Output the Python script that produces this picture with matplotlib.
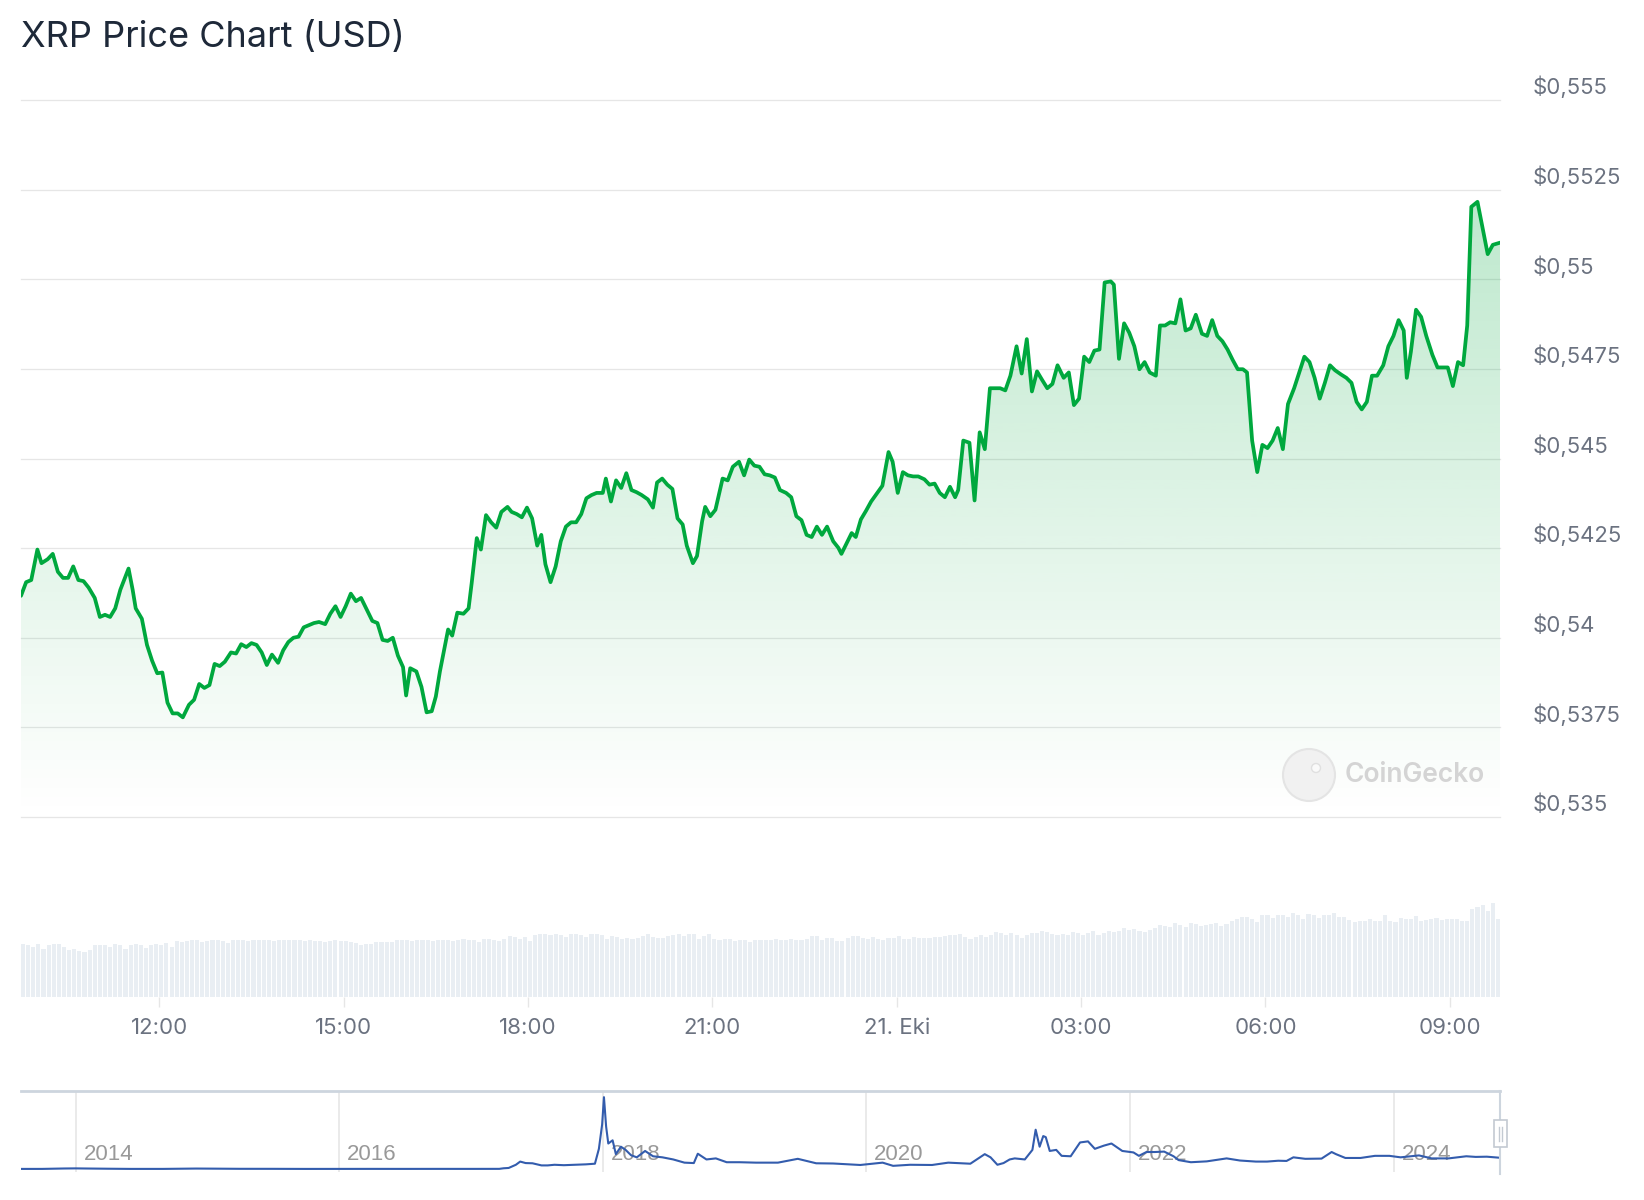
import numpy as np
import pandas as pd
import matplotlib
matplotlib.use('Agg')
import matplotlib.pyplot as plt
import matplotlib.dates as mdates
from matplotlib.patches import Polygon, Circle, Rectangle
from matplotlib.lines import Line2D
from matplotlib.transforms import blended_transform_factory, ScaledTranslation

plt.rcParams['font.family'] = ['Inter', 'DejaVu Sans']

# ---------------- data ----------------
START = '2024-10-20 09:45'
END_MIN = 1444

# minutes after START, and XRP price (USD)
minutes = [0, 5, 10, 16, 20, 26, 31, 36, 41, 46, 51, 56, 61, 66, 72, 77, 82, 87, 92, 97,
           105, 109, 112, 118, 123, 128, 133, 138, 143, 148, 153, 158, 164, 169, 174, 179, 184, 189, 194, 199,
           205, 210, 215, 220, 225, 230, 235, 240, 245, 251, 256, 261, 266, 271, 276, 281, 286, 291, 297, 302,
           307, 312, 317, 322, 327, 332, 337, 343, 348, 353, 358, 363, 368, 373, 376, 380, 386, 391, 396, 401,
           405, 409, 414, 417, 421, 426, 432, 437, 440, 445, 449, 454, 459, 464, 469, 475, 479, 484, 489, 494,
           499, 504, 508, 512, 517, 522, 527, 532, 537, 542, 547, 552, 557, 562, 568, 571, 576, 581, 586, 591,
           596, 601, 606, 612, 617, 621, 626, 631, 636, 641, 646, 650, 656, 660, 665, 668, 673, 678, 685, 690,
           695, 701, 706, 711, 716, 721, 726, 731, 736, 741, 747, 752, 757, 762, 767, 772, 777, 782, 787, 793,
           798, 801, 806, 811, 815, 820, 825, 830, 836, 841, 847, 851, 856, 861, 866, 871, 876, 882, 887, 892,
           897, 902, 907, 912, 915, 920, 926, 931, 936, 941, 946, 951, 956, 961, 966, 972, 977, 982, 987, 992,
           997, 1002, 1007, 1012, 1018, 1023, 1028, 1033, 1038, 1043, 1048, 1053, 1058, 1064, 1067, 1072, 1077, 1082, 1087, 1092,
           1097, 1102, 1108, 1112, 1117, 1122, 1127, 1132, 1137, 1142, 1147, 1153, 1158, 1163, 1168, 1173, 1178, 1183, 1188, 1193,
           1197, 1202, 1207, 1212, 1217, 1222, 1227, 1232, 1237, 1243, 1248, 1253, 1258, 1263, 1268, 1273, 1278, 1283, 1289, 1294,
           1299, 1304, 1309, 1314, 1319, 1324, 1330, 1335, 1340, 1345, 1350, 1353, 1357, 1362, 1367, 1372, 1378, 1383, 1388, 1393,
           1398, 1403, 1408, 1412, 1416, 1422, 1427, 1432, 1437, 1444]

prices = [0.54117, 0.54155, 0.54161, 0.54246, 0.54208, 0.54219, 0.54234, 0.54184, 0.54167, 0.54167,
          0.54199, 0.54161, 0.54158, 0.54140, 0.54111, 0.54058, 0.54064, 0.54058, 0.54082, 0.54134,
          0.54193, 0.54134, 0.54082, 0.54053, 0.53980, 0.53936, 0.53901, 0.53903, 0.53819, 0.53789,
          0.53789, 0.53778, 0.53813, 0.53827, 0.53871, 0.53860, 0.53868, 0.53927, 0.53921, 0.53933,
          0.53959, 0.53956, 0.53982, 0.53974, 0.53985, 0.53980, 0.53959, 0.53924, 0.53953, 0.53930,
          0.53965, 0.53988, 0.54000, 0.54003, 0.54029, 0.54035, 0.54041, 0.54044, 0.54038, 0.54067,
          0.54088, 0.54058, 0.54088, 0.54123, 0.54102, 0.54111, 0.54082, 0.54047, 0.54041, 0.53994,
          0.53991, 0.54000, 0.53950, 0.53918, 0.53839, 0.53915, 0.53906, 0.53863, 0.53792, 0.53795,
          0.53836, 0.53906, 0.53980, 0.54023, 0.54006, 0.54070, 0.54067, 0.54082, 0.54152, 0.54278,
          0.54246, 0.54342, 0.54322, 0.54307, 0.54351, 0.54365, 0.54351, 0.54345, 0.54336, 0.54363,
          0.54333, 0.54257, 0.54287, 0.54205, 0.54155, 0.54199, 0.54269, 0.54310, 0.54322, 0.54322,
          0.54345, 0.54389, 0.54398, 0.54404, 0.54404, 0.54444, 0.54380, 0.54439, 0.54418, 0.54459,
          0.54412, 0.54406, 0.54398, 0.54386, 0.54363, 0.54433, 0.54444, 0.54427, 0.54415, 0.54333,
          0.54316, 0.54257, 0.54208, 0.54228, 0.54325, 0.54365, 0.54339, 0.54357, 0.54444, 0.54439,
          0.54477, 0.54491, 0.54453, 0.54497, 0.54480, 0.54477, 0.54456, 0.54453, 0.54447, 0.54412,
          0.54404, 0.54392, 0.54339, 0.54328, 0.54287, 0.54281, 0.54310, 0.54287, 0.54310, 0.54269,
          0.54251, 0.54234, 0.54263, 0.54292, 0.54281, 0.54330, 0.54354, 0.54380, 0.54404, 0.54424,
          0.54518, 0.54491, 0.54404, 0.54462, 0.54453, 0.54450, 0.54450, 0.54442, 0.54427, 0.54430,
          0.54404, 0.54392, 0.54421, 0.54392, 0.54412, 0.54550, 0.54544, 0.54383, 0.54573, 0.54526,
          0.54696, 0.54696, 0.54696, 0.54690, 0.54731, 0.54813, 0.54737, 0.54833, 0.54687, 0.54743,
          0.54719, 0.54696, 0.54708, 0.54760, 0.54725, 0.54740, 0.54649, 0.54667, 0.54784, 0.54769,
          0.54801, 0.54804, 0.54991, 0.54994, 0.54985, 0.54778, 0.54877, 0.54851, 0.54813, 0.54749,
          0.54769, 0.54740, 0.54731, 0.54871, 0.54871, 0.54880, 0.54877, 0.54944, 0.54857, 0.54863,
          0.54901, 0.54848, 0.54842, 0.54886, 0.54842, 0.54827, 0.54804, 0.54775, 0.54749, 0.54749,
          0.54740, 0.54550, 0.54462, 0.54538, 0.54529, 0.54550, 0.54585, 0.54526, 0.54652, 0.54696,
          0.54740, 0.54784, 0.54769, 0.54725, 0.54667, 0.54711, 0.54760, 0.54746, 0.54734, 0.54725,
          0.54711, 0.54658, 0.54637, 0.54658, 0.54731, 0.54731, 0.54760, 0.54813, 0.54842, 0.54886,
          0.54857, 0.54725, 0.54798, 0.54915, 0.54895, 0.54842, 0.54789, 0.54754, 0.54754, 0.54754,
          0.54702, 0.54769, 0.54760, 0.54871, 0.55202, 0.55216, 0.55143, 0.55070, 0.55096, 0.55102]

# 5-minute volume bars (relative units)
volume = ([53, 52, 50, 53, 48, 52, 53, 53, 50, 47]
          + [48, 46, 45, 47, 52]
          + [52, 52, 50, 53, 52, 48, 52, 53, 52, 49, 52, 53, 52, 54, 50]
          + [56, 55, 56, 57, 57, 55, 56, 57, 57, 56, 54, 57, 57, 57, 56, 57, 57]
          + [57, 57, 56, 57, 57, 57, 57, 57, 56, 57, 56, 56, 55, 56, 57, 56, 56, 55, 54, 52]
          + [53, 53, 55, 55, 55, 55, 57, 57]
          + [57, 56, 57, 57, 57, 56, 57, 57, 57, 56, 57, 58, 57, 57, 55, 58, 58, 57, 56]
          + [58, 61, 60, 58, 60, 56]
          + [62, 63, 63, 62, 63, 62, 60, 63, 63, 62, 60, 63, 63, 62, 58, 61]
          + [60, 58, 59, 58, 59, 61, 63, 60, 59, 59, 61, 62, 63, 61, 63, 63, 58, 61, 63, 58, 57, 58]
          + [58, 56, 57, 57, 55, 57, 57, 57, 57, 58, 57, 57, 58, 57, 57]
          + [58, 61, 61, 57, 59, 59, 56, 56, 59, 61, 61, 59, 58, 60, 58, 57, 59, 59, 61]
          + [58, 58, 60, 59, 59, 59, 60, 60, 61, 62, 62, 63, 60, 58, 60, 62]
          + [60, 62, 65, 64, 62, 64, 62, 59, 62]
          + [64, 64, 66, 65, 63, 62, 63, 62, 65, 64, 62, 64, 66, 62, 64]
          + [66, 65, 66, 69, 67, 68, 66, 65, 67, 69]
          + [72, 71, 70, 74, 72, 70, 74, 73, 71, 72, 73, 74, 71, 73, 76]
          + [78, 80, 80, 78, 75, 82, 82, 79, 82, 82, 80, 84, 82, 78, 83, 82, 79, 82, 82, 84]
          + [80, 80, 77, 75, 76, 76, 78, 76, 76, 82, 76, 75, 79, 78, 78, 81, 76, 77, 78, 79, 77, 78, 78, 78, 76, 76]
          + [88, 90, 92, 86, 94, 78])

y_ticks = [0.535, 0.5375, 0.54, 0.5425, 0.545, 0.5475, 0.55, 0.5525, 0.555]
y_labels = ['$0,535', '$0,5375', '$0,54', '$0,5425', '$0,545', '$0,5475', '$0,55', '$0,5525', '$0,555']

x_tick_times = ['2024-10-20 12:00', '2024-10-20 15:00', '2024-10-20 18:00', '2024-10-20 21:00',
                '2024-10-21 00:00', '2024-10-21 03:00', '2024-10-21 06:00', '2024-10-21 09:00']
x_tick_labels = ['12:00', '15:00', '18:00', '21:00', '21. Eki', '03:00', '06:00', '09:00']

# navigator: long-term XRP history
nav_dates = ['2013-08-04', '2013-10-01', '2013-12-01', '2014-01-01', '2014-02-01', '2014-04-01', '2014-06-01',
             '2014-09-01', '2014-12-01', '2015-01-15', '2015-04-01', '2015-07-01', '2015-10-01', '2016-01-01',
             '2016-04-01', '2016-07-01', '2016-10-01', '2017-01-01', '2017-03-20', '2017-04-01', '2017-04-15',
             '2017-05-05', '2017-05-17', '2017-06-01', '2017-06-20', '2017-07-15', '2017-08-01', '2017-08-20',
             '2017-09-15', '2017-10-15', '2017-11-15', '2017-12-10', '2017-12-21', '2017-12-30', '2018-01-04',
             '2018-01-10', '2018-01-16', '2018-01-28', '2018-02-06', '2018-02-20', '2018-03-05', '2018-03-20',
             '2018-04-05', '2018-04-28', '2018-05-20', '2018-06-15', '2018-07-15', '2018-08-15', '2018-09-10',
             '2018-09-21', '2018-10-15', '2018-11-10', '2018-12-10', '2019-01-15', '2019-03-01', '2019-05-01',
             '2019-06-25', '2019-08-15', '2019-10-01', '2019-12-15', '2020-02-15', '2020-03-15', '2020-05-01',
             '2020-07-01', '2020-08-15', '2020-10-15', '2020-11-24', '2020-12-10', '2020-12-29', '2021-01-15',
             '2021-02-01', '2021-02-15', '2021-03-15', '2021-04-05', '2021-04-14', '2021-04-25', '2021-05-05',
             '2021-05-12', '2021-05-23', '2021-06-10', '2021-06-25', '2021-07-20', '2021-08-15', '2021-09-06',
             '2021-09-25', '2021-10-20', '2021-11-10', '2021-12-10', '2022-01-10', '2022-01-25', '2022-02-15',
             '2022-03-10', '2022-04-05', '2022-05-01', '2022-05-15', '2022-06-18', '2022-08-01', '2022-09-25',
             '2022-11-01', '2022-12-15', '2023-01-15', '2023-02-15', '2023-03-10', '2023-03-29', '2023-05-01',
             '2023-06-15', '2023-07-13', '2023-07-25', '2023-08-20', '2023-10-01', '2023-11-10', '2023-12-20',
             '2024-01-20', '2024-03-11', '2024-04-15', '2024-06-01', '2024-07-20', '2024-08-15', '2024-09-15',
             '2024-10-21']
nav_prices = [0.005, 0.006, 0.025, 0.03, 0.024, 0.014, 0.006, 0.006, 0.022, 0.018, 0.010, 0.009, 0.005,
              0.006, 0.007, 0.006, 0.007, 0.0065, 0.008, 0.035, 0.05, 0.20, 0.35, 0.28, 0.27, 0.17, 0.17,
              0.20, 0.18, 0.20, 0.22, 0.25, 0.95, 2.10, 3.38, 2.00, 1.20, 1.35, 0.70, 1.05, 0.90, 0.65,
              0.55, 0.85, 0.60, 0.55, 0.45, 0.30, 0.28, 0.72, 0.45, 0.50, 0.32, 0.32, 0.30, 0.30, 0.48,
              0.27, 0.26, 0.19, 0.30, 0.15, 0.20, 0.19, 0.30, 0.25, 0.70, 0.55, 0.20, 0.28, 0.45, 0.50,
              0.45, 0.90, 1.85, 1.05, 1.55, 1.50, 0.85, 0.90, 0.62, 0.60, 1.25, 1.30, 0.95, 1.10, 1.20,
              0.85, 0.78, 0.62, 0.80, 0.80, 0.82, 0.60, 0.42, 0.32, 0.36, 0.50, 0.40, 0.35, 0.35, 0.39,
              0.38, 0.55, 0.48, 0.49, 0.80, 0.70, 0.52, 0.52, 0.62, 0.62, 0.55, 0.64, 0.50, 0.50, 0.60,
              0.57, 0.58, 0.53]

nav_years = [2014, 2016, 2018, 2020, 2022, 2024]

# ---------------- styling ----------------
W, H = 1644, 1200
GREEN = '#00a83e'
GRID = '#e6e6e6'
LABEL = '#6b7280'
LEFT, RIGHT = 21, 1500

fig = plt.figure(figsize=(W / 100, H / 100), dpi=100)
fig.patch.set_facecolor('white')


def rect(left, top, right, bottom):
    return [left / W, 1 - bottom / H, (right - left) / W, (bottom - top) / H]


t0 = pd.Timestamp(START)
t_end = t0 + pd.Timedelta(minutes=END_MIN)
tx = mdates.date2num(t0 + pd.to_timedelta(minutes, unit='m'))
x0, x1 = mdates.date2num(t0), mdates.date2num(t_end)

# ---- price axes ----
ax = fig.add_axes(rect(LEFT, 100, RIGHT, 817))
ax.set_xlim(x0, x1)
ax.set_ylim(0.535, 0.555)
ax.axis('off')

for v in y_ticks:
    ax.axhline(v, color=GRID, lw=0.9, zorder=0, clip_on=False)

grad = np.zeros((256, 1, 4))
grad[..., 0] = 0 / 255
grad[..., 1] = 168 / 255
grad[..., 2] = 62 / 255
grad[:, 0, 3] = np.linspace(0.30, 0.0, 256)
im = ax.imshow(grad, extent=[x0, x1, 0.535, 0.555], aspect='auto', origin='upper', zorder=1,
               interpolation='bilinear')
verts = [(tx[0], 0.535)] + list(zip(tx, prices)) + [(tx[-1], 0.535)]
poly = Polygon(verts, closed=True, transform=ax.transData)
im.set_clip_path(poly)

ax.plot(tx, prices, color=GREEN, lw=2.7, solid_joinstyle='round', solid_capstyle='round', zorder=3)

lab_tr = blended_transform_factory(fig.transFigure, ax.transData) + \
    ScaledTranslation(0, 13 / 100, fig.dpi_scale_trans)
for v, s in zip(y_ticks, y_labels):
    ax.text(1533 / W, v, s, transform=lab_tr, ha='left', va='center', fontsize=16, color=LABEL)

# watermark
wm_tr = fig.dpi_scale_trans
fig.patches.append(Circle((1309 / 100, (H - 775) / 100), 0.26, transform=wm_tr,
                          facecolor='#f1f1f1', edgecolor='#e4e4e4', lw=1.5, zorder=5))
fig.patches.append(Circle((1316 / 100, (H - 768) / 100), 0.045, transform=wm_tr,
                          facecolor='#fafafa', edgecolor='#e0e0e0', lw=1, zorder=6))
fig.text(1345 / W, 1 - 775 / H, 'CoinGecko', fontsize=19, color='#d4d4d4', fontweight='semibold',
         ha='left', va='center')

# ---- volume axes ----
axv = fig.add_axes(rect(LEFT, 850, RIGHT, 997))
axv.set_xlim(x0, x1)
axv.set_ylim(0, 147)
bt = mdates.date2num(t0 + pd.to_timedelta(np.arange(len(volume)) * 5, unit='m'))
axv.bar(bt, volume, width=4 / 1440, align='edge', color='#e9eef3', linewidth=0)
for s in axv.spines.values():
    s.set_visible(False)
axv.set_yticks([])
axv.set_xticks(mdates.date2num(pd.to_datetime(x_tick_times)))
axv.set_xticklabels(x_tick_labels)
axv.tick_params(axis='x', length=7, width=1, color=GRID, labelsize=16, labelcolor=LABEL, pad=8)

# ---- title ----
fig.text(21 / W, 1 - 37 / H, 'XRP Price Chart (USD)', fontsize=26, color='#1e2939',
         ha='left', va='center')

# ---- navigator ----
axn = fig.add_axes(rect(LEFT, 1091, RIGHT, 1172))
n0 = mdates.date2num(pd.Timestamp('2013-08-03'))
n1 = mdates.date2num(t_end)
axn.set_xlim(n0, n1)
axn.set_ylim(-0.14, 3.67)
axn.axis('off')
ntx = mdates.date2num(pd.to_datetime(nav_dates))
for yr in nav_years:
    xv = mdates.date2num(pd.Timestamp(f'{yr}-01-01'))
    axn.axvline(xv, color=GRID, lw=1.2, zorder=0)
    tr = blended_transform_factory(axn.transData, axn.transAxes) + \
        ScaledTranslation(8 / 100, 0, fig.dpi_scale_trans)
    axn.text(xv, 0.21, str(yr), transform=tr, ha='left', va='center', fontsize=16,
             color='#999999', family=['Liberation Sans', 'DejaVu Sans'], zorder=1)
axn.plot(ntx, nav_prices, color='#335cad', lw=1.5, zorder=2)

# navigator outline (top border, right edge, handle)
fig.lines.append(Line2D([LEFT / W, RIGHT / W], [1 - 1091 / H, 1 - 1091 / H], transform=fig.transFigure,
                        color='#cdd5de', lw=2))
fig.lines.append(Line2D([RIGHT / W, RIGHT / W], [1 - 1091 / H, 1 - 1174 / H], transform=fig.transFigure,
                        color='#cdd5de', lw=1.5))
fig.patches.append(Rectangle(((RIGHT - 6) / W, 1 - 1147 / H), 13 / W, 27 / H, transform=fig.transFigure,
                             facecolor='white', edgecolor='#c3cad2', lw=1.2, zorder=5))
for xx in (RIGHT - 1.5, RIGHT + 1.5):
    fig.lines.append(Line2D([xx / W, xx / W], [1 - 1127 / H, 1 - 1141 / H], transform=fig.transFigure,
                            color='#c3cad2', lw=1, zorder=6))

fig.savefig('out.png', dpi=100, facecolor='white')
